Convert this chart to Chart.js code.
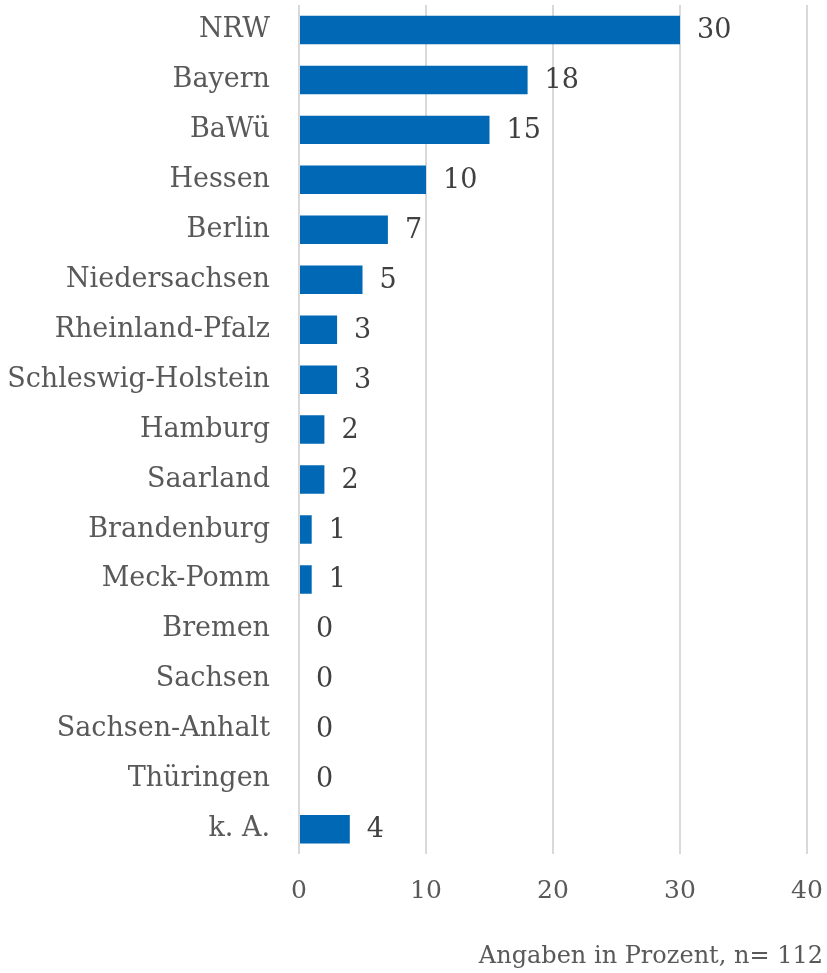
<!DOCTYPE html>
<html>
<head>
<meta charset="utf-8">
<script src="https://cdn.jsdelivr.net/npm/chart.js@4/dist/chart.umd.min.js"></script>
<style>
  html, body { margin: 0; padding: 0; background: #fff; }
  #wrap { width: 827px; height: 973px; position: relative; }
</style>
</head>
<body>
<div id="wrap"><canvas id="chart"></canvas></div>
<script>
// Bundesländer, Angaben in Prozent
const regions = ['NRW', 'Bayern', 'BaWü', 'Hessen', 'Berlin', 'Niedersachsen',
    'Rheinland-Pfalz', 'Schleswig-Holstein', 'Hamburg', 'Saarland', 'Brandenburg',
    'Meck-Pomm', 'Bremen', 'Sachsen', 'Sachsen-Anhalt', 'Thüringen', 'k. A.'];
const shares = [30, 18, 15, 10, 7, 5, 3, 3, 2, 2, 1, 1, 0, 0, 0, 0, 4];
const xTicks = [0, 10, 20, 30, 40];
const footnote = 'Angaben in Prozent, n= 112';

const FONT = "'DejaVu Serif', serif";

// values next to the bar ends
const valueLabels = {
    id: 'valueLabels',
    afterDatasetsDraw(chart) {
        const ctx = chart.ctx;
        const meta = chart.getDatasetMeta(0);
        ctx.save();
        ctx.font = `27px ${FONT}`;
        ctx.fillStyle = '#404040';
        ctx.textAlign = 'left';
        ctx.textBaseline = 'middle';
        meta.data.forEach((bar, i) => {
            ctx.fillText(String(shares[i]), bar.x + 17, bar.y + 1);
        });
        ctx.restore();
    }
};

new Chart(document.getElementById('chart'), {
    type: 'bar',
    data: {
        labels: regions,
        datasets: [{
            data: shares,
            backgroundColor: '#0068b4',
            borderWidth: 0,
            barPercentage: 0.57,
            categoryPercentage: 1,
        }],
    },
    options: {
        indexAxis: 'y',
        responsive: true,
        maintainAspectRatio: false,
        animation: false,
        layout: { padding: { top: 5, right: 4, left: 0, bottom: 0 } },
        plugins: {
            legend: { display: false },
            tooltip: { enabled: false },
            title: {
                display: true,
                text: footnote,
                position: 'bottom',
                align: 'end',
                color: '#595959',
                font: { family: FONT, size: 24, weight: 'normal' },
                padding: { top: 23, bottom: 2 },
            },
        },
        scales: {
            x: {
                min: 0,
                max: 40,
                afterBuildTicks: s => { s.ticks = xTicks.map(v => ({ value: v })); },
                // tick gap done with a transparent tick mark, so it does not pad the plot
                grid: { color: '#d9d9d9', lineWidth: 2, drawTicks: true, tickLength: 22, tickColor: 'rgba(0,0,0,0)' },
                border: { display: false },
                ticks: { color: '#595959', padding: 0, font: { family: FONT, size: 25 } },
                afterFit: s => { s.height = 65; s.paddingRight = 20; },
            },
            y: {
                grid: { display: false, drawTicks: true, tickLength: 29, tickColor: 'rgba(0,0,0,0)' },
                border: { display: false },
                ticks: { color: '#595959', padding: 0, font: { family: FONT, size: 27, lineHeight: 0.3 } },
                afterFit: s => { s.width = 299; },
            },
        },
    },
    plugins: [valueLabels],
});
</script>
</body>
</html>
